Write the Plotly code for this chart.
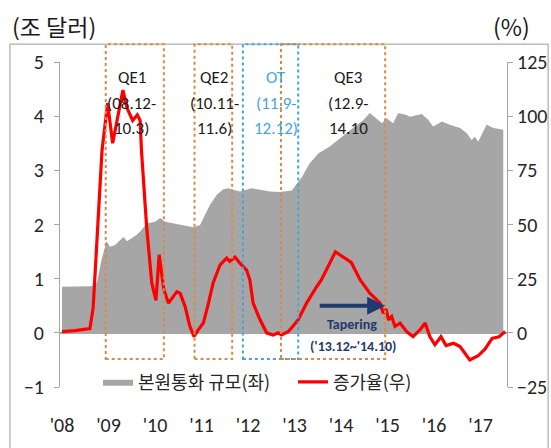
import plotly.graph_objects as go

# ---- data ----
base_x = [2008.00, 2008.64, 2008.75, 2008.85, 2008.96, 2009.03, 2009.14, 2009.25, 2009.32, 2009.40,
          2009.50, 2009.61, 2009.71, 2009.82, 2010.00, 2010.11, 2010.22, 2010.39, 2010.61, 2010.82,
          2010.97, 2011.08, 2011.18, 2011.33, 2011.47, 2011.58, 2011.68, 2011.83, 2011.94, 2012.08,
          2012.26, 2012.47, 2012.69, 2012.94, 2013.17, 2013.32, 2013.51, 2013.76, 2014.12, 2014.48,
          2014.62, 2014.77, 2014.88, 2014.98, 2015.12, 2015.23, 2015.41, 2015.48, 2015.74, 2015.88,
          2015.98, 2016.17, 2016.34, 2016.56, 2016.70, 2016.81, 2016.88, 2016.95, 2017.13, 2017.28,
          2017.49]
base_money = [0.85, 0.86, 0.92, 1.35, 1.69, 1.59, 1.62, 1.72, 1.77, 1.69,
              1.75, 1.81, 1.90, 2.02, 2.05, 2.12, 2.05, 2.02, 1.99, 1.95,
              1.99, 2.18, 2.36, 2.55, 2.65, 2.67, 2.64, 2.61, 2.64, 2.67,
              2.64, 2.61, 2.60, 2.63, 2.89, 3.12, 3.31, 3.44, 3.69, 3.93,
              4.06, 3.96, 3.87, 3.96, 3.87, 4.06, 4.02, 3.99, 4.04, 3.93,
              3.81, 3.90, 3.84, 3.78, 3.69, 3.56, 3.62, 3.53, 3.84, 3.78,
              3.75]

growth_x = [2008.00, 2008.28, 2008.60, 2008.67, 2008.86, 2008.98, 2009.09, 2009.31, 2009.40, 2009.52,
            2009.62, 2009.68, 2009.71, 2009.82, 2009.93, 2010.02, 2010.09, 2010.19, 2010.29, 2010.37,
            2010.47, 2010.54, 2010.65, 2010.75, 2010.84, 2010.93, 2011.04, 2011.15, 2011.25, 2011.40,
            2011.54, 2011.61, 2011.72, 2011.83, 2011.97, 2012.04, 2012.11, 2012.26, 2012.40, 2012.54,
            2012.65, 2012.72, 2012.87, 2013.08, 2013.26, 2013.48, 2013.58, 2013.88, 2014.22, 2014.41,
            2014.62, 2014.84, 2014.91, 2014.97, 2015.02, 2015.09, 2015.16, 2015.27, 2015.41, 2015.55,
            2015.70, 2015.81, 2015.91, 2016.02, 2016.15, 2016.26, 2016.42, 2016.56, 2016.77, 2016.95,
            2017.10, 2017.25, 2017.40, 2017.53]
growth = [0.6, 1.0, 2.0, 11.5, 84.0, 106.0, 87.5, 112.0, 103.7, 98.0,
          100.6, 98.0, 84.0, 49.0, 23.0, 15.0, 36.0, 20.0, 13.7, 16.0,
          19.0, 18.3, 12.0, 3.0, -1.7, 1.4, 4.5, 13.7, 23.0, 31.4,
          34.5, 33.0, 35.0, 32.0, 29.0, 24.5, 13.7, 6.0, 0.0, -1.0,
          0.0, -1.0, 0.6, 6.0, 13.7, 21.4, 24.5, 37.4, 32.5, 24.5,
          18.3, 13.7, 9.0, 11.0, 6.0, 7.5, 3.0, 4.5, 0.6, -1.7,
          1.4, 4.5, -1.7, -5.5, -1.8, -5.9, -4.8, -6.3, -12.5, -10.6,
          -7.4, -2.6, -1.8, 0.6]

year_ticks = [2008, 2009, 2010, 2011, 2012, 2013, 2014, 2015, 2016, 2017]
year_labels = ["'08", "'09", "'10", "'11", "'12", "'13", "'14", "'15", "'16", "'17"]
left_ticks = [-1, 0, 1, 2, 3, 4, 5]
right_ticks = [-25, 0, 25, 50, 75, 100, 125]

# programme periods (label lines, start, end, box colour, text colour, label centre)
periods = [
    (["QE1", "(08.12-", "10.3)"], 2008.94, 2010.19, "#D98A45", "#1a1a1a", 2009.50),
    (["QE2", "(10.11-", "11.6)"], 2010.85, 2011.66, "#D98A45", "#1a1a1a", 2011.27),
    (["OT", "(11.9-", "12.12)"], 2011.89, 2013.08, "#3FA7D6", "#3FA7D6", 2012.61),
    (["QE3", "(12.9-", "14.10"], 2012.71, 2014.95, "#D98A45", "#1a1a1a", 2014.16),
]

NARROW = "Carlito, 'Liberation Sans Narrow', 'Roboto Condensed', 'Sofia Sans Condensed', 'Noto Sans'"
KR = "'Noto Sans CJK KR', 'Noto Sans'"
GRAY_LINE = "#A6A6A6"

fig = go.Figure()
fig.add_trace(go.Scatter(
    x=base_x, y=base_money, name="본원통화 규모(좌)", mode="lines",
    line=dict(width=0, color="#A6A6A6"), fill="tozeroy", fillcolor="#A6A6A6",
    yaxis="y", hoverinfo="skip"))
fig.add_trace(go.Scatter(
    x=growth_x, y=growth, name="증가율(우)", mode="lines",
    line=dict(width=3.2, color="#FF0000"), yaxis="y2", hoverinfo="skip"))

shapes = []
# outer frame
shapes.append(dict(type="rect", xref="paper", yref="paper", x0=-0.112, x1=1.092, y0=-0.2, y1=1.055,
                   line=dict(color="#9a9a9a", width=1), layer="below"))
annotations = []
line_y = [0.991, 0.912, 0.834]
for lines, x0, x1, col, tcol, xc in periods:
    shapes.append(dict(type="rect", xref="x", yref="paper", x0=x0, x1=x1, y0=0.086, y1=1.055,
                       line=dict(color=col, width=2, dash="dot"), layer="above"))
    for t, yy in zip(lines, line_y):
        annotations.append(dict(xref="x", yref="paper", x=xc, y=yy, text=t, showarrow=False,
                                font=dict(family=NARROW, size=17, color=tcol)))

# tapering arrow
annotations.append(dict(xref="x", yref="y", axref="x", ayref="y", x=2014.95, y=0.50,
                        ax=2013.51, ay=0.50, text="", showarrow=True, arrowhead=2,
                        arrowsize=0.9, arrowwidth=4, arrowcolor="#1F3A6E"))
annotations.append(dict(xref="x", yref="y", x=2014.24, y=0.148, text="<b>Tapering</b>", showarrow=False,
                        font=dict(family=NARROW, size=14, color="#1F3A6E")))
annotations.append(dict(xref="x", yref="y", x=2014.26, y=-0.253, text="<b>('13.12~'14.10)</b>", showarrow=False,
                        font=dict(family=NARROW, size=14, color="#1F3A6E")))
# unit labels
annotations.append(dict(xref="paper", yref="paper", x=-0.112, y=1.11, xanchor="left", yanchor="middle",
                        text="(조 달러)", showarrow=False, font=dict(family=KR, size=23, color="#1a1a1a")))
annotations.append(dict(xref="paper", yref="paper", x=1.011, y=1.11, xanchor="center", yanchor="middle",
                        text="(%)", showarrow=False, font=dict(family=KR, size=23, color="#1a1a1a")))

fig.update_layout(
    width=551, height=448,
    margin=dict(l=60, r=44, t=62, b=61, autoexpand=False),
    paper_bgcolor="white", plot_bgcolor="white",
    showlegend=True,
    legend=dict(orientation="h", x=0.085, y=0.015, xanchor="left", yanchor="middle",
                font=dict(family=KR, size=18, color="#262626"), bgcolor="rgba(0,0,0,0)",
                itemwidth=30, entrywidthmode="pixels", entrywidth=150, tracegroupgap=0),
    xaxis=dict(range=[2007.957, 2017.57], tickvals=year_ticks, ticktext=year_labels,
               showline=False, showgrid=False, zeroline=False, ticks="", automargin=False,
               ticklabelstandoff=24,
               tickfont=dict(family=NARROW, size=20, color="#262626")),
    yaxis=dict(range=[-1, 5], tickvals=left_ticks, showgrid=False, showline=True, automargin=False,
               linecolor=GRAY_LINE, linewidth=1, ticks="outside", ticklen=5, tickcolor=GRAY_LINE,
               zeroline=True, zerolinecolor=GRAY_LINE, zerolinewidth=1.5,
               ticklabelstandoff=6,
               tickfont=dict(family=NARROW, size=20, color="#262626")),
    yaxis2=dict(range=[-25, 125], tickvals=right_ticks, overlaying="y", side="right", automargin=False,
                showgrid=False, showline=True, linecolor=GRAY_LINE, linewidth=1,
                ticks="outside", ticklen=5, tickcolor=GRAY_LINE, zeroline=False,
                tickfont=dict(family=NARROW, size=20, color="#262626")),
    shapes=shapes, annotations=annotations,
)

fig.write_html("out.html")
